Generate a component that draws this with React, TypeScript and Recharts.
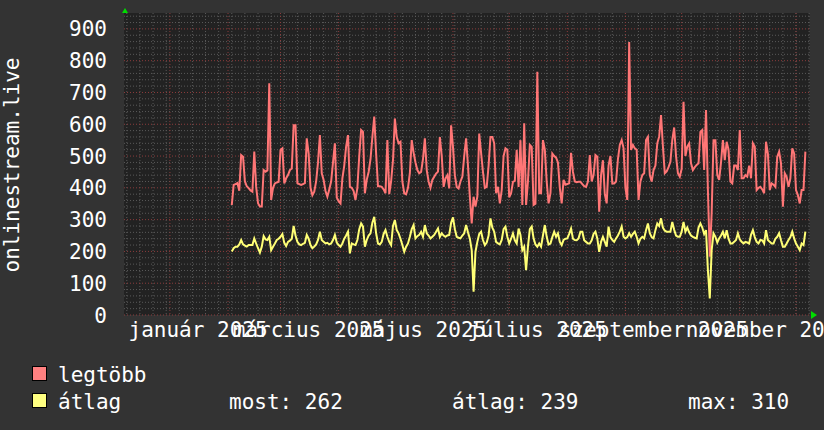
import React from 'react';
import { LineChart, Line, XAxis, YAxis, CartesianGrid } from 'recharts';

// napi adatok, 2025. jan. 1 = 0. nap
const FIRST_DAY = 33;

const maxValues = [
  346, 409, 412, 415, 391, 503, 498, 420, 405, 399,
  392, 388, 514, 403, 352, 341, 341, 456, 451, 455,
  729, 362, 400, 414, 417, 419, 519, 524, 414, 430,
  440, 456, 461, 597, 597, 415, 412, 409, 412, 415,
  556, 508, 400, 377, 388, 420, 480, 566, 446, 425,
  390, 372, 395, 420, 480, 540, 370, 358, 351, 430,
  470, 530, 566, 403, 400, 390, 362, 400, 500, 582,
  576, 383, 425, 450, 490, 560, 624, 508, 405, 405,
  403, 395, 383, 550, 380, 420, 487, 618, 560, 540,
  545, 420, 383, 380, 400, 446, 550, 510, 480, 456,
  446, 450, 490, 556, 456, 420, 400, 425, 435, 445,
  451, 560, 500, 403, 430, 440, 398, 597, 529, 440,
  403, 398, 420, 435, 500, 556, 470, 372, 288, 372,
  341, 372, 571, 510, 450, 400, 403, 470, 560, 560,
  540, 383, 403, 351, 393, 500, 524, 519, 370, 383,
  419, 422, 520, 403, 550, 346, 603, 346, 420, 535,
  529, 346, 350, 765, 383, 383, 550, 520, 420, 351,
  383, 508, 500, 495, 480, 400, 351, 425, 410, 412,
  414, 510, 450, 420, 418, 419, 419, 412, 405,
  403, 420, 503, 420, 440, 503, 498, 325, 440, 487,
  380, 351, 470, 500, 414, 414, 420, 490, 535, 550,
  525, 400, 362, 859, 519, 535, 524, 520, 362, 420,
  440, 446, 550, 560, 440, 420, 456, 470, 540, 561,
  629, 530, 446, 452, 465, 482, 550, 590, 500, 446,
  435, 460, 671, 500, 530, 540, 477, 456, 465, 472,
  477, 576, 582, 456, 645, 393, 183, 320, 550, 550,
  440, 425, 480, 550, 487, 545, 520, 420, 414, 470,
  470, 456, 582, 430, 430, 440, 435, 470, 430, 540,
  529, 393, 400, 403, 395, 383, 545, 508, 393, 414,
  410, 403, 498, 514, 477, 341, 446, 435, 403, 430,
  524, 508, 393, 377, 351, 393, 393, 514,
];

const avgValues = [
  200, 210, 215, 215, 222, 236, 222, 218, 215, 220,
  220, 220, 241, 225, 210, 196, 215, 248, 238, 236,
  246, 204, 215, 225, 236, 240, 246, 255, 227, 217,
  230, 234, 240, 280, 250, 230, 222, 220, 224, 227,
  252, 240, 220, 210, 215, 222, 236, 262, 236, 230,
  225, 227, 222, 225, 236, 252, 228, 220, 215, 225,
  240, 250, 262, 194, 225, 222, 220, 236, 270, 288,
  278, 215, 236, 250, 257, 290, 309, 257, 225, 222,
  230, 255, 267, 246, 230, 220, 280, 299, 267, 257,
  240, 220, 199, 215, 225, 246, 270, 283, 241, 248,
  252, 262, 246, 283, 257, 250, 241, 246, 252, 262,
  272, 246, 257, 250, 246, 250, 252, 290, 307, 270,
  246, 243, 241, 250, 257, 283, 260, 240, 204, 73,
  199, 230, 255, 262, 236, 220, 228, 250, 304, 275,
  262, 230, 225, 222, 236, 270, 278, 246, 225, 240,
  257, 235, 225, 272, 252, 204, 215, 141, 215, 270,
  278, 241, 222, 215, 225, 215, 250, 283, 246, 222,
  225, 245, 262, 246, 257, 230, 220, 236, 240, 241,
  255, 272, 240, 236, 235, 241, 262, 262, 235,
  230, 225, 225, 235, 255, 262, 241, 199, 230, 246,
  230, 215, 278, 245, 236, 230, 241, 250, 262, 278,
  246, 241, 245, 257, 246, 255, 262, 246, 225, 240,
  246, 241, 267, 288, 257, 245, 241, 267, 288, 280,
  304, 275, 265, 262, 262, 262, 293, 268, 250, 246,
  246, 262, 293, 262, 275, 260, 250, 246, 243, 241,
  275, 288, 275, 255, 267, 141, 52, 204, 257, 246,
  228, 241, 250, 262, 241, 267, 240, 225, 225, 230,
  236, 257, 238, 230, 225, 230, 228, 225, 252, 267,
  245, 230, 225, 236, 235, 225, 267, 236, 230, 225,
  225, 240, 246, 257, 235, 215, 215, 225, 236, 245,
  262, 241, 225, 215, 204, 225, 220, 262,
];

const monthStarts = [0, 31, 59, 90, 120, 151, 181, 212, 243, 273, 304, 334];
const labelMonths = [0, 59, 120, 181, 243, 304];
const monthLabels = ['január 2025', 'március 2025', 'május 2025', 'július 2025', 'szeptember 2025', 'november 2025'];
const yTicks = [0, 100, 200, 300, 400, 500, 600, 700, 800, 900];
const minorY = [20, 40, 60, 80, 120, 140, 160, 180, 220, 240, 260, 280, 320, 340, 360, 380, 420, 440, 460, 480,
  520, 540, 560, 580, 620, 640, 660, 680, 720, 740, 760, 780, 820, 840, 860, 880, 920, 940];
const mondays = [-23, -16, -9, -2, 5, 12, 19, 26, 33, 40, 47, 54, 61, 68, 75, 82, 89, 96, 103, 110, 117, 124,
  131, 138, 145, 152, 159, 166, 173, 180, 187, 194, 201, 208, 215, 222, 229, 236, 243, 250, 257, 264, 271,
  278, 285, 292, 299, 306, 313, 320, 327, 334, 341];

const stats = { most: 262, atlag: 239, max: 310 };

const LABEL_SHIFT = 15;
const FONT = '"DejaVu Sans Mono", monospace';
const RED = '#ff7676';
const YELLOW = '#ffff76';

const data = maxValues.map((v, i) => ({ day: FIRST_DAY + i, max: v, avg: avgValues[i] }));
const xTicks = labelMonths.map(d => d + LABEL_SHIFT);

const XTick = ({ x, y, payload }: any) => {
  const idx = xTicks.indexOf(payload.value);
  return (
    <text x={x} y={y + 22} textAnchor="middle" fill="#ffffff" fontSize={21} fontFamily={FONT}>
      {monthLabels[idx]}
    </text>
  );
};

const YTick = ({ x, y, payload }: any) => (
  <text x={x} y={y} dy="0.36em" textAnchor="end" fill="#ffffff" fontSize={21} fontFamily={FONT}>
    {payload.value}
  </text>
);

const App = () => {
  return (
    <div style={{ position: 'absolute', left: 0, top: 0, width: 824, height: 430, background: '#333333' }}>
      <LineChart width={824} height={430} data={data} margin={{ top: 13, right: 14.5, left: 0, bottom: 85 }}>
        <CartesianGrid
          horizontalValues={minorY}
          verticalValues={mondays}
          stroke="#5a5a5a"
          strokeDasharray="1 2"
          fill="#222222"
          fillOpacity={1}
        />
        <CartesianGrid
          horizontalValues={yTicks}
          verticalValues={monthStarts}
          stroke="#8c3c3c"
          strokeDasharray="1 2"
        />
        <XAxis
          dataKey="day"
          type="number"
          domain={[-24.5, 341.2]}
          allowDataOverflow
          ticks={xTicks}
          interval={0}
          height={30}
          tickSize={0}
          tickMargin={0}
          tickLine={false}
          axisLine={false}
          tick={<XTick />}
        />
        <YAxis
          type="number"
          domain={[0, 950]}
          allowDataOverflow
          ticks={yTicks}
          interval={0}
          width={124}
          tickSize={0}
          tickMargin={17}
          tickLine={false}
          axisLine={false}
          tick={<YTick />}
        />
        <Line type="linear" dataKey="max" stroke={RED} strokeWidth={2} dot={false} isAnimationActive={false} />
        <Line type="linear" dataKey="avg" stroke={YELLOW} strokeWidth={2} dot={false} isAnimationActive={false} />
      </LineChart>
      <svg width={824} height={430} style={{ position: 'absolute', left: 0, top: 0, pointerEvents: 'none' }}>
        <text transform="translate(19,165) rotate(-90)" textAnchor="middle" fill="#ffffff" fontSize={21} fontFamily={FONT}>
          onlinestream.live
        </text>
        <polygon points="125,8 122,13 128,13" fill="#00dd00" />
        <polygon points="811,311 811,319 817,315" fill="#00dd00" />
        <rect x={32.5} y={366.5} width={14} height={14} fill="#ff8080" stroke="#000" />
        <text x={58} y={382} fill="#ffffff" fontSize={21} fontFamily={FONT}>legtöbb</text>
        <rect x={32.5} y={393.5} width={14} height={14} fill="#ffff80" stroke="#000" />
        <text x={58} y={409} fill="#ffffff" fontSize={21} fontFamily={FONT}>átlag</text>
        <text x={229} y={409} fill="#ffffff" fontSize={21} fontFamily={FONT}>most: {stats.most}</text>
        <text x={452} y={409} fill="#ffffff" fontSize={21} fontFamily={FONT}>átlag: {stats.atlag}</text>
        <text x={688} y={409} fill="#ffffff" fontSize={21} fontFamily={FONT}>max: {stats.max}</text>
      </svg>
    </div>
  );
};

export default App;
